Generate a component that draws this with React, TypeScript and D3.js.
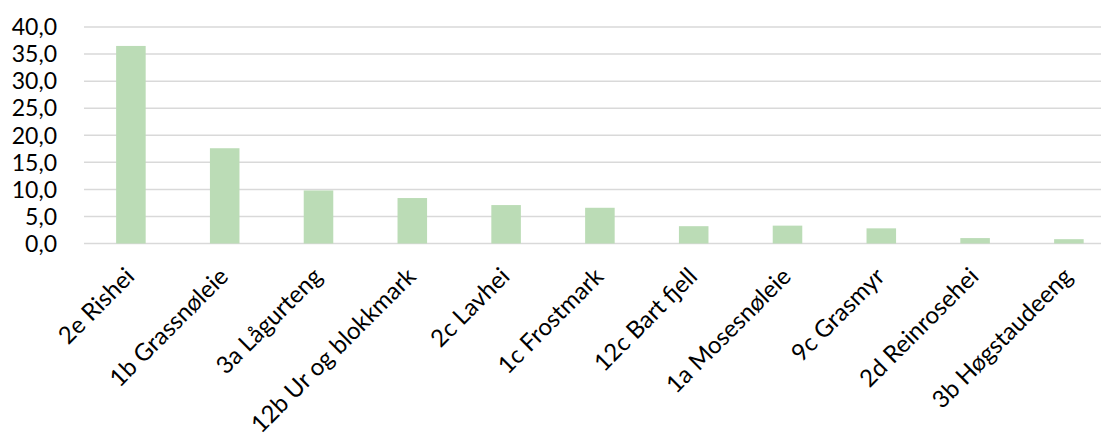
import React from "react";
import * as d3 from "d3";

const categories = [
  "2e Rishei",
  "1b Grassnøleie",
  "3a Lågurteng",
  "12b Ur og blokkmark",
  "2c Lavhei",
  "1c Frostmark",
  "12c Bart fjell",
  "1a Mosesnøleie",
  "9c Grasmyr",
  "2d Reinrosehei",
  "3b Høgstaudeeng",
];
const values = [36.5, 17.6, 9.8, 8.4, 7.1, 6.6, 3.2, 3.3, 2.8, 1.0, 0.8];
const yTicks = [0, 5, 10, 15, 20, 25, 30, 35, 40];

const W = 1101;
const H = 437;
const FONT = "Lato, 'Open Sans', sans-serif";

export default function App() {
  const x = d3
    .scaleBand<string>()
    .domain(categories)
    .range([84, 84 + 11 * 93.8])
    .paddingInner(0.685)
    .paddingOuter(0.3425);
  const y = d3.scaleLinear().domain([0, 40]).range([243.5, 27]);
  const fmt = (v: number) => v.toFixed(1).replace(".", ",");

  return (
    <svg
      width={W}
      height={H}
      style={{ position: "absolute", left: 0, top: 0, background: "#fff" }}
    >
      <g>
        {yTicks.map((t) => (
          <line
            key={"g" + t}
            x1={84}
            x2={W}
            y1={y(t)}
            y2={y(t)}
            stroke="#d9d9d9"
            strokeWidth={1.5}
          />
        ))}
      </g>
      <g>
        {categories.map((c, i) => (
          <rect
            key={c}
            x={x(c)}
            y={y(values[i])}
            width={x.bandwidth()}
            height={y(0) - y(values[i])}
            fill="#bbdcb6"
          />
        ))}
      </g>
      <g fontFamily={FONT} fontSize={23} fill="#000">
        {yTicks.map((t) => (
          <text key={"t" + t} x={57} y={y(t)} dy="0.36em" textAnchor="end">
            {fmt(t)}
          </text>
        ))}
      </g>
      <g fontFamily={FONT} fontSize={24} fill="#000">
        {categories.map((c) => {
          const cx = (x(c) as number) + x.bandwidth() / 2;
          return (
            <text
              key={"l" + c}
              transform={`translate(${cx + 5},${278}) rotate(-45)`}
              textAnchor="end"
            >
              {c}
            </text>
          );
        })}
      </g>
    </svg>
  );
}
